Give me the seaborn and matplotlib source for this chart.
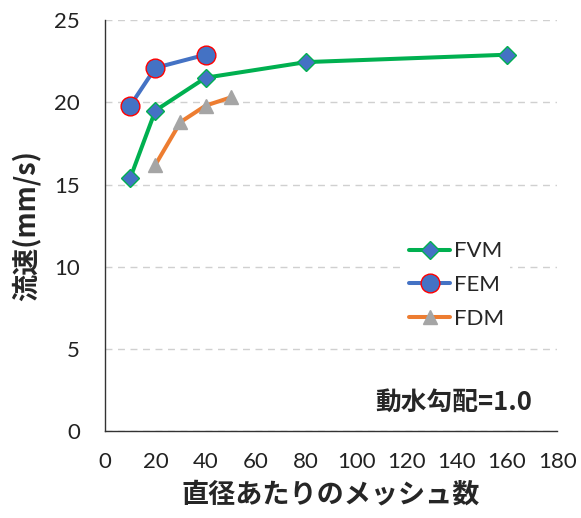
import seaborn as sns
import pandas as pd
import matplotlib.pyplot as plt

# Data
fvm_x = [10, 20, 40, 80, 160]
fvm_y = [15.4, 19.5, 21.5, 22.45, 22.9]
fem_x = [10, 20, 40]
fem_y = [19.8, 22.1, 22.9]
fdm_x = [20, 30, 40, 50]
fdm_y = [16.2, 18.8, 19.8, 20.3]
x_ticks = [0, 20, 40, 60, 80, 100, 120, 140, 160, 180]
y_ticks = [0, 5, 10, 15, 20, 25]


def plot_figure():
    sns.set_theme(style='white')
    plt.rcParams['font.family'] = ['Lato', 'Noto Sans CJK JP', 'DejaVu Sans']
    fig = plt.figure(figsize=(5.81, 5.18), dpi=100)
    ax = fig.add_axes([0.181, 0.168, 0.778, 0.793])

    series = [
        ('FVM', fvm_x, fvm_y, '#00B050', 'D', '#4472C4', '#00B050', 9.5),
        ('FEM', fem_x, fem_y, '#4472C4', 'o', '#4472C4', '#FF0000', 13.5),
        ('FDM', fdm_x, fdm_y, '#ED7D31', '^', '#A5A5A5', '#A5A5A5', 10.5),
    ]
    for name, xs, ys, color, marker, face, edge, size in series:
        df = pd.DataFrame({'x': xs, 'y': ys})
        sns.lineplot(data=df, x='x', y='y', ax=ax, color=color, linewidth=2.9,
                     marker=marker, markersize=size, markerfacecolor=face,
                     markeredgecolor=edge, markeredgewidth=1.0, label=name)

    ax.set_xlim(0, 180)
    ax.set_ylim(0, 25)
    ax.set_xticks(x_ticks)
    ax.set_yticks(y_ticks)
    ax.tick_params(axis='both', labelsize=16, colors='#222222', length=0)
    ax.tick_params(axis='y', pad=18)
    ax.tick_params(axis='x', pad=15)
    ax.yaxis.grid(True, color='#D0D0D0', linestyle=(0, (5, 4)), linewidth=1.0)
    ax.xaxis.grid(False)
    for s in ['top', 'right']:
        ax.spines[s].set_visible(False)
    for s in ['left', 'bottom']:
        ax.spines[s].set_color('#333333')
        ax.spines[s].set_linewidth(1.0)

    ax.set_xlabel('直径あたりのメッシュ数', fontsize=19.5, fontweight='bold',
                  family=['Noto Sans CJK JP'], labelpad=6)
    ax.set_ylabel('流速(mm/s)', fontsize=19.5, fontweight='bold',
                  family=['Noto Sans CJK JP'], labelpad=10)

    leg = ax.legend(loc='upper left', bbox_to_anchor=(0.633, 0.505), frameon=True,
                    facecolor='white', edgecolor='white', framealpha=1,
                    fontsize=16, handlelength=1.85, handletextpad=0.15,
                    labelspacing=0.62, borderpad=0.3)
    leg.get_frame().set_linewidth(0)

    ax.text(0.945, 0.07, '動水勾配=1.0', transform=ax.transAxes, ha='right', va='center',
            fontsize=18.5, fontweight='bold', family=['Noto Sans CJK JP', 'DejaVu Sans'])

    fig.savefig('out.png', dpi=100)


if __name__ == '__main__':
    plot_figure()
